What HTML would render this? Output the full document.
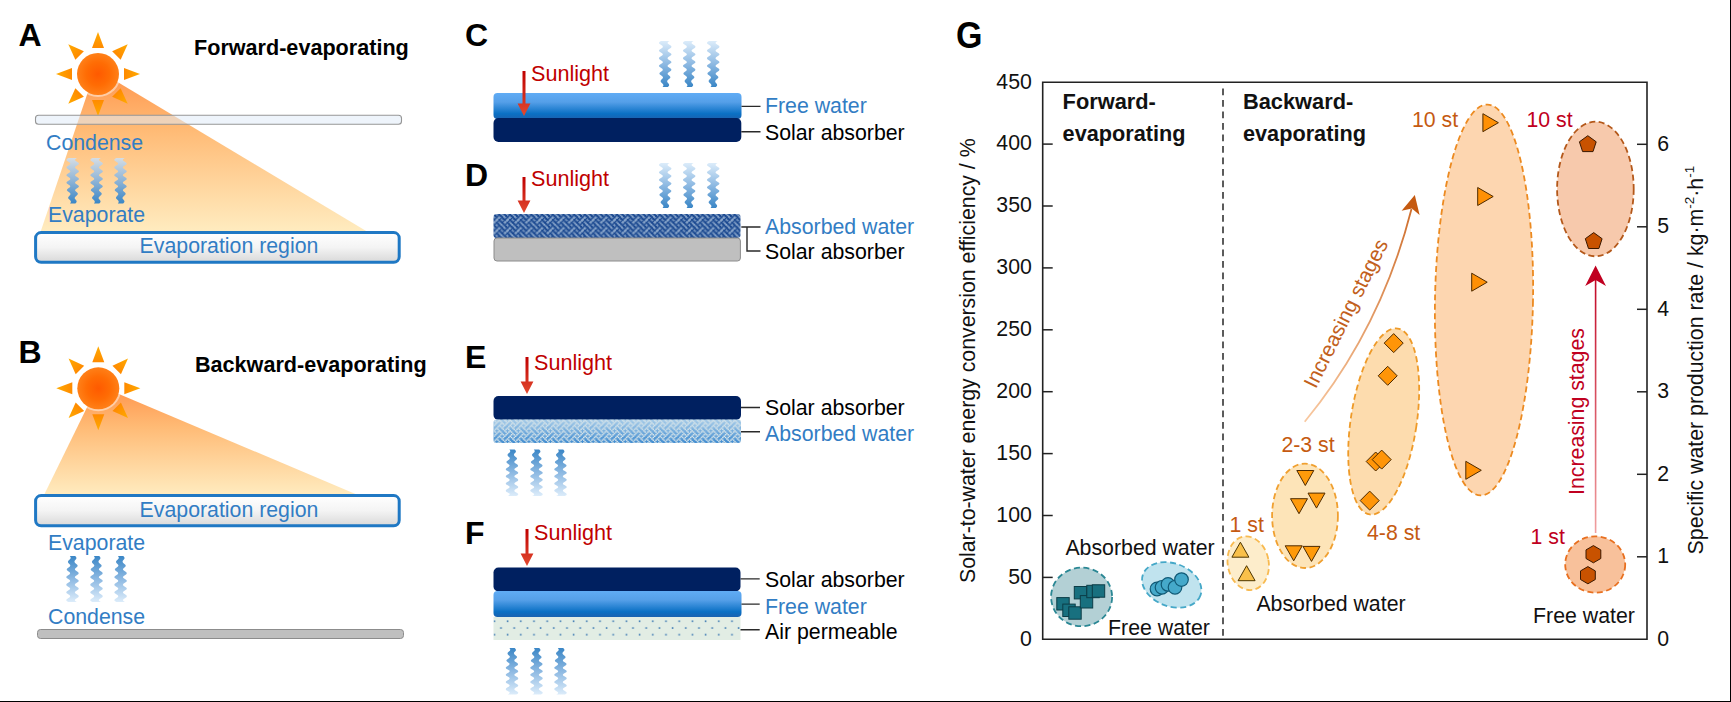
<!DOCTYPE html>
<html><head><meta charset="utf-8"><title>Figure</title>
<style>html,body{margin:0;padding:0;background:#fff;}body{width:1731px;height:702px;overflow:hidden;font-family:"Liberation Sans",sans-serif;}svg{display:block;}</style></head>
<body>
<svg width="1731" height="702" viewBox="0 0 1731 702">
<defs>
<pattern id="weaveD" width="10.7" height="10.7" patternUnits="userSpaceOnUse" x="493.5" y="214"><rect width="10.7" height="10.7" fill="#8ca8cc"/><path d="M-0.41,-0.41h2.15v2.15h-2.15zM-0.41,10.29h2.15v2.15h-2.15zM10.29,-0.41h2.15v2.15h-2.15zM10.29,10.29h2.15v2.15h-2.15zM4.94,-0.41h2.15v2.15h-2.15zM4.94,10.29h2.15v2.15h-2.15zM0.93,0.93h2.15v2.15h-2.15zM0.93,11.63h2.15v2.15h-2.15zM11.63,0.93h2.15v2.15h-2.15zM11.63,11.63h2.15v2.15h-2.15zM3.93,1.26h1.50v1.50h-1.50zM6.28,0.93h2.15v2.15h-2.15zM6.28,11.63h2.15v2.15h-2.15zM2.27,2.27h2.15v2.15h-2.15zM-3.08,2.27h2.15v2.15h-2.15zM7.62,2.27h2.15v2.15h-2.15zM1.26,3.93h1.50v1.50h-1.50zM6.61,3.93h1.50v1.50h-1.50zM-1.74,3.61h2.15v2.15h-2.15zM8.96,3.61h2.15v2.15h-2.15zM-0.41,4.94h2.15v2.15h-2.15zM10.29,4.94h2.15v2.15h-2.15zM4.94,4.94h2.15v2.15h-2.15zM3.93,6.61h1.50v1.50h-1.50zM6.28,6.28h2.15v2.15h-2.15zM-1.42,6.61h1.50v1.50h-1.50zM9.28,6.61h1.50v1.50h-1.50zM2.27,-3.08h2.15v2.15h-2.15zM2.27,7.62h2.15v2.15h-2.15zM-3.08,-3.08h2.15v2.15h-2.15zM-3.08,7.62h2.15v2.15h-2.15zM7.62,-3.08h2.15v2.15h-2.15zM7.62,7.62h2.15v2.15h-2.15zM1.26,-1.42h1.50v1.50h-1.50zM1.26,9.28h1.50v1.50h-1.50zM3.61,-1.74h2.15v2.15h-2.15zM3.61,8.96h2.15v2.15h-2.15zM-1.74,-1.74h2.15v2.15h-2.15zM-1.74,8.96h2.15v2.15h-2.15zM8.96,-1.74h2.15v2.15h-2.15zM8.96,8.96h2.15v2.15h-2.15z" fill="#19478f"/></pattern>
<linearGradient id="gE" x1="0" y1="0" x2="0" y2="1"><stop offset="0" stop-color="#a6cbe8"/><stop offset="1" stop-color="#3f8bd0"/></linearGradient>
<pattern id="weaveE" width="10.7" height="10.7" patternUnits="userSpaceOnUse" x="493.5" y="419.5"><path d="M-0.08,-0.08h1.50v1.50h-1.50zM-0.08,10.62h1.50v1.50h-1.50zM10.62,-0.08h1.50v1.50h-1.50zM10.62,10.62h1.50v1.50h-1.50zM5.27,-0.08h1.50v1.50h-1.50zM5.27,10.62h1.50v1.50h-1.50zM1.26,1.26h1.50v1.50h-1.50zM3.93,1.26h1.50v1.50h-1.50zM6.61,1.26h1.50v1.50h-1.50zM2.59,2.59h1.50v1.50h-1.50zM7.94,2.59h1.50v1.50h-1.50zM1.26,3.93h1.50v1.50h-1.50zM6.61,3.93h1.50v1.50h-1.50zM-1.42,3.93h1.50v1.50h-1.50zM9.28,3.93h1.50v1.50h-1.50zM-0.08,5.27h1.50v1.50h-1.50zM10.62,5.27h1.50v1.50h-1.50zM5.27,5.27h1.50v1.50h-1.50zM3.93,6.61h1.50v1.50h-1.50zM6.61,6.61h1.50v1.50h-1.50zM-1.42,6.61h1.50v1.50h-1.50zM9.28,6.61h1.50v1.50h-1.50zM2.59,7.94h1.50v1.50h-1.50zM7.94,7.94h1.50v1.50h-1.50zM1.26,-1.42h1.50v1.50h-1.50zM1.26,9.28h1.50v1.50h-1.50zM3.93,-1.42h1.50v1.50h-1.50zM3.93,9.28h1.50v1.50h-1.50zM-1.42,-1.42h1.50v1.50h-1.50zM-1.42,9.28h1.50v1.50h-1.50zM9.28,-1.42h1.50v1.50h-1.50zM9.28,9.28h1.50v1.50h-1.50z" fill="#dde8ea"/></pattern>
<pattern id="dots" width="13.2" height="13.4" patternUnits="userSpaceOnUse" x="491" y="614.5"><rect width="13.2" height="13.4" fill="#e2ede4"/><rect x="2.6" y="6" width="1.6" height="1.6" fill="#3f7cb4"/><rect x="9.2" y="12.7" width="1.6" height="1.6" fill="#3f7cb4"/><rect x="9.2" y="-0.7" width="1.6" height="1.6" fill="#3f7cb4"/></pattern>
<linearGradient id="water" x1="0" y1="0" x2="0" y2="1"><stop offset="0" stop-color="#60acf5"/><stop offset="0.35" stop-color="#559fe8"/><stop offset="0.8" stop-color="#0a70c4"/><stop offset="1" stop-color="#1a62b0"/></linearGradient>
<linearGradient id="evap" x1="0" y1="0" x2="0" y2="1"><stop offset="0" stop-color="#ffffff"/><stop offset="0.5" stop-color="#f4f4f4"/><stop offset="1" stop-color="#d9d9d9"/></linearGradient>
<linearGradient id="beamA" gradientUnits="userSpaceOnUse" x1="0" y1="74" x2="0" y2="232"><stop offset="0" stop-color="#ff8a3a" stop-opacity="0.9"/><stop offset="0.35" stop-color="#ffae5c" stop-opacity="0.85"/><stop offset="1" stop-color="#ffe7b0" stop-opacity="0.8"/></linearGradient>
<linearGradient id="beamB" gradientUnits="userSpaceOnUse" x1="0" y1="389" x2="0" y2="496"><stop offset="0" stop-color="#ff8a3a" stop-opacity="0.9"/><stop offset="0.35" stop-color="#ffae5c" stop-opacity="0.85"/><stop offset="1" stop-color="#ffe7b0" stop-opacity="0.8"/></linearGradient>
<linearGradient id="arr" x1="0" y1="0" x2="0" y2="1"><stop offset="0" stop-color="#c00000"/><stop offset="1" stop-color="#f07050"/></linearGradient>
</defs>
<rect width="1731" height="702" fill="#fff"/>
<text x="18.6" y="45.9" font-size="32" fill="#000" text-anchor="start" font-weight="bold" font-family="Liberation Sans, sans-serif" >A</text>
<text x="194" y="55.4" font-size="21.6" fill="#000" text-anchor="start" font-weight="bold" font-family="Liberation Sans, sans-serif" >Forward-evaporating</text>
<polygon points="94,74 100,71.6 367,231.5 40.5,232" fill="url(#beamA)"/>
<radialGradient id="sunA" cx="0.5" cy="0.5" r="0.5"><stop offset="0" stop-color="#ff5a00"/><stop offset="0.55" stop-color="#ff6c04"/><stop offset="1" stop-color="#ff8018"/></radialGradient>
<linearGradient id="sunAr" x1="0" y1="0" x2="0" y2="1"><stop offset="0" stop-color="#ffab00"/><stop offset="1" stop-color="#ff8a00"/></linearGradient>
<polygon points="-6,-26 6,-26 0,-42" fill="url(#sunAr)" transform="translate(98,74) rotate(0)"/>
<polygon points="-6,-26 6,-26 0,-42" fill="url(#sunAr)" transform="translate(98,74) rotate(45)"/>
<polygon points="-6,-26 6,-26 0,-42" fill="url(#sunAr)" transform="translate(98,74) rotate(90)"/>
<polygon points="-6,-26 6,-26 0,-42" fill="url(#sunAr)" transform="translate(98,74) rotate(135)"/>
<polygon points="-6,-26 6,-26 0,-42" fill="url(#sunAr)" transform="translate(98,74) rotate(180)"/>
<polygon points="-6,-26 6,-26 0,-42" fill="url(#sunAr)" transform="translate(98,74) rotate(225)"/>
<polygon points="-6,-26 6,-26 0,-42" fill="url(#sunAr)" transform="translate(98,74) rotate(270)"/>
<polygon points="-6,-26 6,-26 0,-42" fill="url(#sunAr)" transform="translate(98,74) rotate(315)"/>
<circle cx="98" cy="74" r="23" fill="#fff" fill-opacity="0.45"/>
<circle cx="98" cy="74" r="21" fill="url(#sunA)"/>
<rect x="35.5" y="115.2" width="366" height="9.1" rx="3" fill="#e0ebf8" fill-opacity="0.55" stroke="#969696" stroke-width="1.1"/>
<text x="46" y="150" font-size="21.3" fill="#327dc4" text-anchor="start" font-weight="normal" font-family="Liberation Sans, sans-serif" >Condense</text>
<linearGradient id="vA" gradientUnits="userSpaceOnUse" x1="0" y1="203.5" x2="0" y2="158"><stop offset="0" stop-color="#3a86c6"/><stop offset="0.5" stop-color="#8fb4d6"/><stop offset="1" stop-color="#d5dde4"/></linearGradient>
<path d="M70.03,203.50 Q72.04,201.60 69.63,199.71 Q66.80,197.81 69.22,195.92 Q72.05,194.02 68.81,192.12 Q65.15,190.23 68.40,188.33 Q72.28,186.44 68.40,184.54 Q64.40,182.65 68.40,180.75 Q72.40,178.85 68.40,176.96 Q64.40,175.06 68.40,173.17 Q72.40,171.27 68.40,169.38 Q64.40,167.48 68.40,165.58 Q72.40,163.69 68.40,161.79 Q64.40,159.90 68.40,158.00 L77.00,158.00 Q73.00,159.90 77.00,161.79 Q81.00,163.69 77.00,165.58 Q73.00,167.48 77.00,169.38 Q81.00,171.27 77.00,173.17 Q73.00,175.06 77.00,176.96 Q81.00,178.85 77.00,180.75 Q73.00,182.65 77.00,184.54 Q80.88,186.44 77.00,188.33 Q73.34,190.23 76.59,192.12 Q79.43,194.02 76.18,195.92 Q73.35,197.81 75.77,199.71 Q77.78,201.60 75.37,203.50 Z" fill="url(#vA)"/>
<path d="M93.93,203.50 Q95.94,201.60 93.53,199.71 Q90.70,197.81 93.12,195.92 Q95.95,194.02 92.71,192.12 Q89.05,190.23 92.30,188.33 Q96.17,186.44 92.30,184.54 Q88.30,182.65 92.30,180.75 Q96.30,178.85 92.30,176.96 Q88.30,175.06 92.30,173.17 Q96.30,171.27 92.30,169.38 Q88.30,167.48 92.30,165.58 Q96.30,163.69 92.30,161.79 Q88.30,159.90 92.30,158.00 L100.90,158.00 Q96.90,159.90 100.90,161.79 Q104.90,163.69 100.90,165.58 Q96.90,167.48 100.90,169.38 Q104.90,171.27 100.90,173.17 Q96.90,175.06 100.90,176.96 Q104.90,178.85 100.90,180.75 Q96.90,182.65 100.90,184.54 Q104.77,186.44 100.90,188.33 Q97.24,190.23 100.49,192.12 Q103.33,194.02 100.08,195.92 Q97.25,197.81 99.67,199.71 Q101.68,201.60 99.27,203.50 Z" fill="url(#vA)"/>
<path d="M117.83,203.50 Q119.84,201.60 117.43,199.71 Q114.60,197.81 117.02,195.92 Q119.85,194.02 116.61,192.12 Q112.95,190.23 116.20,188.33 Q120.08,186.44 116.20,184.54 Q112.20,182.65 116.20,180.75 Q120.20,178.85 116.20,176.96 Q112.20,175.06 116.20,173.17 Q120.20,171.27 116.20,169.38 Q112.20,167.48 116.20,165.58 Q120.20,163.69 116.20,161.79 Q112.20,159.90 116.20,158.00 L124.80,158.00 Q120.80,159.90 124.80,161.79 Q128.80,163.69 124.80,165.58 Q120.80,167.48 124.80,169.38 Q128.80,171.27 124.80,173.17 Q120.80,175.06 124.80,176.96 Q128.80,178.85 124.80,180.75 Q120.80,182.65 124.80,184.54 Q128.68,186.44 124.80,188.33 Q121.14,190.23 124.39,192.12 Q127.23,194.02 123.98,195.92 Q121.15,197.81 123.57,199.71 Q125.58,201.60 123.17,203.50 Z" fill="url(#vA)"/>
<text x="48" y="222" font-size="21.3" fill="#327dc4" text-anchor="start" font-weight="normal" font-family="Liberation Sans, sans-serif" >Evaporate</text>
<rect x="35.6" y="232.6" width="363.6" height="29.6" rx="5.5" fill="url(#evap)" stroke="#1f78c4" stroke-width="3"/>
<text x="229" y="253" font-size="21.3" fill="#327dc4" text-anchor="middle" font-weight="normal" font-family="Liberation Sans, sans-serif" >Evaporation region</text>
<text x="18.6" y="363.4" font-size="32" fill="#000" text-anchor="start" font-weight="bold" font-family="Liberation Sans, sans-serif" >B</text>
<text x="195" y="371.5" font-size="21.6" fill="#000" text-anchor="start" font-weight="bold" font-family="Liberation Sans, sans-serif" >Backward-evaporating</text>
<polygon points="96.5,388 100,386 359,495.5 43.5,496" fill="url(#beamB)"/>
<radialGradient id="sunB" cx="0.5" cy="0.5" r="0.5"><stop offset="0" stop-color="#ff5a00"/><stop offset="0.55" stop-color="#ff6c04"/><stop offset="1" stop-color="#ff8018"/></radialGradient>
<linearGradient id="sunBr" x1="0" y1="0" x2="0" y2="1"><stop offset="0" stop-color="#ffab00"/><stop offset="1" stop-color="#ff8a00"/></linearGradient>
<polygon points="-6,-26 6,-26 0,-42" fill="url(#sunBr)" transform="translate(98.3,388.3) rotate(0)"/>
<polygon points="-6,-26 6,-26 0,-42" fill="url(#sunBr)" transform="translate(98.3,388.3) rotate(45)"/>
<polygon points="-6,-26 6,-26 0,-42" fill="url(#sunBr)" transform="translate(98.3,388.3) rotate(90)"/>
<polygon points="-6,-26 6,-26 0,-42" fill="url(#sunBr)" transform="translate(98.3,388.3) rotate(135)"/>
<polygon points="-6,-26 6,-26 0,-42" fill="url(#sunBr)" transform="translate(98.3,388.3) rotate(180)"/>
<polygon points="-6,-26 6,-26 0,-42" fill="url(#sunBr)" transform="translate(98.3,388.3) rotate(225)"/>
<polygon points="-6,-26 6,-26 0,-42" fill="url(#sunBr)" transform="translate(98.3,388.3) rotate(270)"/>
<polygon points="-6,-26 6,-26 0,-42" fill="url(#sunBr)" transform="translate(98.3,388.3) rotate(315)"/>
<circle cx="98.3" cy="388.3" r="23" fill="#fff" fill-opacity="0.45"/>
<circle cx="98.3" cy="388.3" r="21" fill="url(#sunB)"/>
<rect x="35.6" y="495.6" width="363.6" height="30.2" rx="5.5" fill="url(#evap)" stroke="#1f78c4" stroke-width="3"/>
<text x="229" y="517" font-size="21.3" fill="#327dc4" text-anchor="middle" font-weight="normal" font-family="Liberation Sans, sans-serif" >Evaporation region</text>
<text x="48" y="550" font-size="21.3" fill="#327dc4" text-anchor="start" font-weight="normal" font-family="Liberation Sans, sans-serif" >Evaporate</text>
<linearGradient id="vB" gradientUnits="userSpaceOnUse" x1="0" y1="556" x2="0" y2="602"><stop offset="0" stop-color="#3a86c6"/><stop offset="0.5" stop-color="#8db9e2"/><stop offset="1" stop-color="#dcecfa"/></linearGradient>
<path d="M69.83,556.00 Q71.84,557.92 69.43,559.83 Q66.60,561.75 69.02,563.67 Q71.85,565.58 68.61,567.50 Q64.95,569.42 68.20,571.33 Q72.08,573.25 68.20,575.17 Q64.20,577.08 68.20,579.00 Q72.20,580.92 68.20,582.83 Q64.20,584.75 68.20,586.67 Q72.20,588.58 68.20,590.50 Q64.20,592.42 68.20,594.33 Q72.20,596.25 68.20,598.17 Q64.20,600.08 68.20,602.00 L76.80,602.00 Q72.80,600.08 76.80,598.17 Q80.80,596.25 76.80,594.33 Q72.80,592.42 76.80,590.50 Q80.80,588.58 76.80,586.67 Q72.80,584.75 76.80,582.83 Q80.80,580.92 76.80,579.00 Q72.80,577.08 76.80,575.17 Q80.67,573.25 76.80,571.33 Q73.14,569.42 76.39,567.50 Q79.23,565.58 75.98,563.67 Q73.15,561.75 75.57,559.83 Q77.58,557.92 75.17,556.00 Z" fill="url(#vB)"/>
<path d="M93.83,556.00 Q95.84,557.92 93.43,559.83 Q90.60,561.75 93.02,563.67 Q95.85,565.58 92.61,567.50 Q88.95,569.42 92.20,571.33 Q96.08,573.25 92.20,575.17 Q88.20,577.08 92.20,579.00 Q96.20,580.92 92.20,582.83 Q88.20,584.75 92.20,586.67 Q96.20,588.58 92.20,590.50 Q88.20,592.42 92.20,594.33 Q96.20,596.25 92.20,598.17 Q88.20,600.08 92.20,602.00 L100.80,602.00 Q96.80,600.08 100.80,598.17 Q104.80,596.25 100.80,594.33 Q96.80,592.42 100.80,590.50 Q104.80,588.58 100.80,586.67 Q96.80,584.75 100.80,582.83 Q104.80,580.92 100.80,579.00 Q96.80,577.08 100.80,575.17 Q104.67,573.25 100.80,571.33 Q97.14,569.42 100.39,567.50 Q103.23,565.58 99.98,563.67 Q97.15,561.75 99.57,559.83 Q101.58,557.92 99.17,556.00 Z" fill="url(#vB)"/>
<path d="M117.93,556.00 Q119.94,557.92 117.53,559.83 Q114.70,561.75 117.12,563.67 Q119.95,565.58 116.71,567.50 Q113.05,569.42 116.30,571.33 Q120.17,573.25 116.30,575.17 Q112.30,577.08 116.30,579.00 Q120.30,580.92 116.30,582.83 Q112.30,584.75 116.30,586.67 Q120.30,588.58 116.30,590.50 Q112.30,592.42 116.30,594.33 Q120.30,596.25 116.30,598.17 Q112.30,600.08 116.30,602.00 L124.90,602.00 Q120.90,600.08 124.90,598.17 Q128.90,596.25 124.90,594.33 Q120.90,592.42 124.90,590.50 Q128.90,588.58 124.90,586.67 Q120.90,584.75 124.90,582.83 Q128.90,580.92 124.90,579.00 Q120.90,577.08 124.90,575.17 Q128.77,573.25 124.90,571.33 Q121.24,569.42 124.49,567.50 Q127.33,565.58 124.08,563.67 Q121.25,561.75 123.67,559.83 Q125.68,557.92 123.27,556.00 Z" fill="url(#vB)"/>
<text x="48" y="624" font-size="21.3" fill="#327dc4" text-anchor="start" font-weight="normal" font-family="Liberation Sans, sans-serif" >Condense</text>
<rect x="37.5" y="629.5" width="366" height="9" rx="3" fill="#bfbfbf" stroke="#8c8c8c" stroke-width="1"/>
<text x="465" y="46" font-size="32" fill="#000" text-anchor="start" font-weight="bold" font-family="Liberation Sans, sans-serif" >C</text>
<rect x="493.5" y="93" width="248" height="26" rx="4" fill="url(#water)"/>
<rect x="493.5" y="118" width="247.8" height="24" rx="5" fill="#002060"/>
<linearGradient id="aC" gradientUnits="userSpaceOnUse" x1="0" y1="71" x2="0" y2="116"><stop offset="0" stop-color="#c00000"/><stop offset="1" stop-color="#e24a30"/></linearGradient>
<path d="M522.5,71 L525.5,71 L525.5,103.5 L530.4,103.5 L524,116 L517.6,103.5 L522.5,103.5 Z" fill="url(#aC)"/>
<text x="531" y="81" font-size="21.6" fill="#c00000" text-anchor="start" font-weight="normal" font-family="Liberation Sans, sans-serif" >Sunlight</text>
<linearGradient id="vC" gradientUnits="userSpaceOnUse" x1="0" y1="87" x2="0" y2="41"><stop offset="0" stop-color="#3a86c6"/><stop offset="0.5" stop-color="#8db9e2"/><stop offset="1" stop-color="#dcecfa"/></linearGradient>
<path d="M662.53,87.00 Q664.54,85.08 662.13,83.17 Q659.30,81.25 661.72,79.33 Q664.55,77.42 661.31,75.50 Q657.65,73.58 660.90,71.67 Q664.78,69.75 660.90,67.83 Q656.90,65.92 660.90,64.00 Q664.90,62.08 660.90,60.17 Q656.90,58.25 660.90,56.33 Q664.90,54.42 660.90,52.50 Q656.90,50.58 660.90,48.67 Q664.90,46.75 660.90,44.83 Q656.90,42.92 660.90,41.00 L669.50,41.00 Q665.50,42.92 669.50,44.83 Q673.50,46.75 669.50,48.67 Q665.50,50.58 669.50,52.50 Q673.50,54.42 669.50,56.33 Q665.50,58.25 669.50,60.17 Q673.50,62.08 669.50,64.00 Q665.50,65.92 669.50,67.83 Q673.38,69.75 669.50,71.67 Q665.84,73.58 669.09,75.50 Q671.93,77.42 668.68,79.33 Q665.85,81.25 668.27,83.17 Q670.28,85.08 667.87,87.00 Z" fill="url(#vC)"/>
<path d="M686.53,87.00 Q688.54,85.08 686.13,83.17 Q683.30,81.25 685.72,79.33 Q688.55,77.42 685.31,75.50 Q681.65,73.58 684.90,71.67 Q688.78,69.75 684.90,67.83 Q680.90,65.92 684.90,64.00 Q688.90,62.08 684.90,60.17 Q680.90,58.25 684.90,56.33 Q688.90,54.42 684.90,52.50 Q680.90,50.58 684.90,48.67 Q688.90,46.75 684.90,44.83 Q680.90,42.92 684.90,41.00 L693.50,41.00 Q689.50,42.92 693.50,44.83 Q697.50,46.75 693.50,48.67 Q689.50,50.58 693.50,52.50 Q697.50,54.42 693.50,56.33 Q689.50,58.25 693.50,60.17 Q697.50,62.08 693.50,64.00 Q689.50,65.92 693.50,67.83 Q697.38,69.75 693.50,71.67 Q689.84,73.58 693.09,75.50 Q695.93,77.42 692.68,79.33 Q689.85,81.25 692.27,83.17 Q694.28,85.08 691.87,87.00 Z" fill="url(#vC)"/>
<path d="M710.53,87.00 Q712.54,85.08 710.13,83.17 Q707.30,81.25 709.72,79.33 Q712.55,77.42 709.31,75.50 Q705.65,73.58 708.90,71.67 Q712.78,69.75 708.90,67.83 Q704.90,65.92 708.90,64.00 Q712.90,62.08 708.90,60.17 Q704.90,58.25 708.90,56.33 Q712.90,54.42 708.90,52.50 Q704.90,50.58 708.90,48.67 Q712.90,46.75 708.90,44.83 Q704.90,42.92 708.90,41.00 L717.50,41.00 Q713.50,42.92 717.50,44.83 Q721.50,46.75 717.50,48.67 Q713.50,50.58 717.50,52.50 Q721.50,54.42 717.50,56.33 Q713.50,58.25 717.50,60.17 Q721.50,62.08 717.50,64.00 Q713.50,65.92 717.50,67.83 Q721.38,69.75 717.50,71.67 Q713.84,73.58 717.09,75.50 Q719.93,77.42 716.68,79.33 Q713.85,81.25 716.27,83.17 Q718.28,85.08 715.87,87.00 Z" fill="url(#vC)"/>
<path d="M741.5,106.4 H760.5 M741.3,131.8 H760.5" stroke="#2a2a2a" stroke-width="1.4" fill="none"/>
<text x="765" y="113" font-size="21.3" fill="#327dc4" text-anchor="start" font-weight="normal" font-family="Liberation Sans, sans-serif" >Free water</text>
<text x="765" y="140" font-size="21.3" fill="#000" text-anchor="start" font-weight="normal" font-family="Liberation Sans, sans-serif" >Solar absorber</text>
<text x="465" y="185.7" font-size="32" fill="#000" text-anchor="start" font-weight="bold" font-family="Liberation Sans, sans-serif" >D</text>
<rect x="493.5" y="214" width="247" height="24" rx="3" fill="url(#weaveD)"/>
<rect x="494" y="238" width="246.4" height="23" rx="3" fill="#bfbfbf" stroke="#8c8c8c" stroke-width="1"/>
<linearGradient id="aD" gradientUnits="userSpaceOnUse" x1="0" y1="177" x2="0" y2="213"><stop offset="0" stop-color="#c00000"/><stop offset="1" stop-color="#e24a30"/></linearGradient>
<path d="M522.5,177 L525.5,177 L525.5,200.5 L530.4,200.5 L524,213 L517.6,200.5 L522.5,200.5 Z" fill="url(#aD)"/>
<text x="531" y="186" font-size="21.6" fill="#c00000" text-anchor="start" font-weight="normal" font-family="Liberation Sans, sans-serif" >Sunlight</text>
<linearGradient id="vD" gradientUnits="userSpaceOnUse" x1="0" y1="208" x2="0" y2="163"><stop offset="0" stop-color="#3a86c6"/><stop offset="0.5" stop-color="#8db9e2"/><stop offset="1" stop-color="#dcecfa"/></linearGradient>
<path d="M662.53,208.00 Q664.54,206.12 662.13,204.25 Q659.30,202.38 661.72,200.50 Q664.55,198.62 661.31,196.75 Q657.65,194.88 660.90,193.00 Q664.78,191.12 660.90,189.25 Q656.90,187.38 660.90,185.50 Q664.90,183.62 660.90,181.75 Q656.90,179.88 660.90,178.00 Q664.90,176.12 660.90,174.25 Q656.90,172.38 660.90,170.50 Q664.90,168.62 660.90,166.75 Q656.90,164.88 660.90,163.00 L669.50,163.00 Q665.50,164.88 669.50,166.75 Q673.50,168.62 669.50,170.50 Q665.50,172.38 669.50,174.25 Q673.50,176.12 669.50,178.00 Q665.50,179.88 669.50,181.75 Q673.50,183.62 669.50,185.50 Q665.50,187.38 669.50,189.25 Q673.38,191.12 669.50,193.00 Q665.84,194.88 669.09,196.75 Q671.93,198.62 668.68,200.50 Q665.85,202.38 668.27,204.25 Q670.28,206.12 667.87,208.00 Z" fill="url(#vD)"/>
<path d="M686.53,208.00 Q688.54,206.12 686.13,204.25 Q683.30,202.38 685.72,200.50 Q688.55,198.62 685.31,196.75 Q681.65,194.88 684.90,193.00 Q688.78,191.12 684.90,189.25 Q680.90,187.38 684.90,185.50 Q688.90,183.62 684.90,181.75 Q680.90,179.88 684.90,178.00 Q688.90,176.12 684.90,174.25 Q680.90,172.38 684.90,170.50 Q688.90,168.62 684.90,166.75 Q680.90,164.88 684.90,163.00 L693.50,163.00 Q689.50,164.88 693.50,166.75 Q697.50,168.62 693.50,170.50 Q689.50,172.38 693.50,174.25 Q697.50,176.12 693.50,178.00 Q689.50,179.88 693.50,181.75 Q697.50,183.62 693.50,185.50 Q689.50,187.38 693.50,189.25 Q697.38,191.12 693.50,193.00 Q689.84,194.88 693.09,196.75 Q695.93,198.62 692.68,200.50 Q689.85,202.38 692.27,204.25 Q694.28,206.12 691.87,208.00 Z" fill="url(#vD)"/>
<path d="M710.53,208.00 Q712.54,206.12 710.13,204.25 Q707.30,202.38 709.72,200.50 Q712.55,198.62 709.31,196.75 Q705.65,194.88 708.90,193.00 Q712.78,191.12 708.90,189.25 Q704.90,187.38 708.90,185.50 Q712.90,183.62 708.90,181.75 Q704.90,179.88 708.90,178.00 Q712.90,176.12 708.90,174.25 Q704.90,172.38 708.90,170.50 Q712.90,168.62 708.90,166.75 Q704.90,164.88 708.90,163.00 L717.50,163.00 Q713.50,164.88 717.50,166.75 Q721.50,168.62 717.50,170.50 Q713.50,172.38 717.50,174.25 Q721.50,176.12 717.50,178.00 Q713.50,179.88 717.50,181.75 Q721.50,183.62 717.50,185.50 Q713.50,187.38 717.50,189.25 Q721.38,191.12 717.50,193.00 Q713.84,194.88 717.09,196.75 Q719.93,198.62 716.68,200.50 Q713.85,202.38 716.27,204.25 Q718.28,206.12 715.87,208.00 Z" fill="url(#vD)"/>
<path d="M741.3,227 H760.5 M747,227 V251 H760.5" stroke="#2a2a2a" stroke-width="1.4" fill="none"/>
<text x="765" y="234" font-size="21.3" fill="#327dc4" text-anchor="start" font-weight="normal" font-family="Liberation Sans, sans-serif" >Absorbed water</text>
<text x="765" y="259" font-size="21.3" fill="#000" text-anchor="start" font-weight="normal" font-family="Liberation Sans, sans-serif" >Solar absorber</text>
<text x="465" y="367.6" font-size="32" fill="#000" text-anchor="start" font-weight="bold" font-family="Liberation Sans, sans-serif" >E</text>
<rect x="493.5" y="396" width="247.5" height="24" rx="5" fill="#002060"/>
<rect x="493.5" y="419.5" width="247.5" height="23.5" rx="3" fill="url(#gE)"/>
<rect x="493.5" y="419.5" width="247.5" height="23.5" rx="3" fill="url(#weaveE)"/>
<linearGradient id="aE" gradientUnits="userSpaceOnUse" x1="0" y1="357" x2="0" y2="394"><stop offset="0" stop-color="#c00000"/><stop offset="1" stop-color="#e24a30"/></linearGradient>
<path d="M525.5,357 L528.5,357 L528.5,381.5 L533.4,381.5 L527,394 L520.6,381.5 L525.5,381.5 Z" fill="url(#aE)"/>
<text x="534" y="370" font-size="21.6" fill="#c00000" text-anchor="start" font-weight="normal" font-family="Liberation Sans, sans-serif" >Sunlight</text>
<linearGradient id="vE" gradientUnits="userSpaceOnUse" x1="0" y1="449.5" x2="0" y2="496"><stop offset="0" stop-color="#3a86c6"/><stop offset="0.5" stop-color="#8db9e2"/><stop offset="1" stop-color="#dcecfa"/></linearGradient>
<path d="M509.33,449.50 Q511.34,451.29 508.96,453.08 Q506.19,454.87 508.58,456.65 Q511.35,458.44 508.20,460.23 Q504.67,462.02 507.83,463.81 Q511.49,465.60 507.70,467.38 Q503.70,469.17 507.70,470.96 Q511.70,472.75 507.70,474.54 Q503.70,476.33 507.70,478.12 Q511.70,479.90 507.70,481.69 Q503.70,483.48 507.70,485.27 Q511.70,487.06 507.70,488.85 Q503.70,490.63 507.70,492.42 Q511.70,494.21 507.70,496.00 L516.30,496.00 Q520.30,494.21 516.30,492.42 Q512.30,490.63 516.30,488.85 Q520.30,487.06 516.30,485.27 Q512.30,483.48 516.30,481.69 Q520.30,479.90 516.30,478.12 Q512.30,476.33 516.30,474.54 Q520.30,472.75 516.30,470.96 Q512.30,469.17 516.30,467.38 Q519.97,465.60 516.17,463.81 Q512.64,462.02 515.80,460.23 Q518.57,458.44 515.42,456.65 Q512.65,454.87 515.04,453.08 Q517.05,451.29 514.67,449.50 Z" fill="url(#vE)"/>
<path d="M533.83,449.50 Q535.84,451.29 533.46,453.08 Q530.69,454.87 533.08,456.65 Q535.85,458.44 532.70,460.23 Q529.17,462.02 532.33,463.81 Q535.99,465.60 532.20,467.38 Q528.20,469.17 532.20,470.96 Q536.20,472.75 532.20,474.54 Q528.20,476.33 532.20,478.12 Q536.20,479.90 532.20,481.69 Q528.20,483.48 532.20,485.27 Q536.20,487.06 532.20,488.85 Q528.20,490.63 532.20,492.42 Q536.20,494.21 532.20,496.00 L540.80,496.00 Q544.80,494.21 540.80,492.42 Q536.80,490.63 540.80,488.85 Q544.80,487.06 540.80,485.27 Q536.80,483.48 540.80,481.69 Q544.80,479.90 540.80,478.12 Q536.80,476.33 540.80,474.54 Q544.80,472.75 540.80,470.96 Q536.80,469.17 540.80,467.38 Q544.47,465.60 540.67,463.81 Q537.14,462.02 540.30,460.23 Q543.07,458.44 539.92,456.65 Q537.15,454.87 539.54,453.08 Q541.55,451.29 539.17,449.50 Z" fill="url(#vE)"/>
<path d="M557.83,449.50 Q559.84,451.29 557.46,453.08 Q554.69,454.87 557.08,456.65 Q559.85,458.44 556.70,460.23 Q553.17,462.02 556.33,463.81 Q559.99,465.60 556.20,467.38 Q552.20,469.17 556.20,470.96 Q560.20,472.75 556.20,474.54 Q552.20,476.33 556.20,478.12 Q560.20,479.90 556.20,481.69 Q552.20,483.48 556.20,485.27 Q560.20,487.06 556.20,488.85 Q552.20,490.63 556.20,492.42 Q560.20,494.21 556.20,496.00 L564.80,496.00 Q568.80,494.21 564.80,492.42 Q560.80,490.63 564.80,488.85 Q568.80,487.06 564.80,485.27 Q560.80,483.48 564.80,481.69 Q568.80,479.90 564.80,478.12 Q560.80,476.33 564.80,474.54 Q568.80,472.75 564.80,470.96 Q560.80,469.17 564.80,467.38 Q568.47,465.60 564.67,463.81 Q561.14,462.02 564.30,460.23 Q567.07,458.44 563.92,456.65 Q561.15,454.87 563.54,453.08 Q565.55,451.29 563.17,449.50 Z" fill="url(#vE)"/>
<path d="M741,407.5 H760 M741,431.7 H760" stroke="#2a2a2a" stroke-width="1.4" fill="none"/>
<text x="765" y="415" font-size="21.3" fill="#000" text-anchor="start" font-weight="normal" font-family="Liberation Sans, sans-serif" >Solar absorber</text>
<text x="765" y="441" font-size="21.3" fill="#327dc4" text-anchor="start" font-weight="normal" font-family="Liberation Sans, sans-serif" >Absorbed water</text>
<text x="465" y="544" font-size="32" fill="#000" text-anchor="start" font-weight="bold" font-family="Liberation Sans, sans-serif" >F</text>
<rect x="493.5" y="617" width="247" height="23" fill="url(#dots)"/>
<rect x="493.5" y="567.5" width="247" height="24" rx="5" fill="#002060"/>
<rect x="493.5" y="591" width="248" height="26" rx="4" fill="url(#water)"/>
<linearGradient id="aF" gradientUnits="userSpaceOnUse" x1="0" y1="529" x2="0" y2="566"><stop offset="0" stop-color="#c00000"/><stop offset="1" stop-color="#e24a30"/></linearGradient>
<path d="M525.5,529 L528.5,529 L528.5,553.5 L533.4,553.5 L527,566 L520.6,553.5 L525.5,553.5 Z" fill="url(#aF)"/>
<text x="534" y="540" font-size="21.6" fill="#c00000" text-anchor="start" font-weight="normal" font-family="Liberation Sans, sans-serif" >Sunlight</text>
<linearGradient id="vF" gradientUnits="userSpaceOnUse" x1="0" y1="648" x2="0" y2="694.5"><stop offset="0" stop-color="#3a86c6"/><stop offset="0.5" stop-color="#8db9e2"/><stop offset="1" stop-color="#dcecfa"/></linearGradient>
<path d="M509.33,648.00 Q511.34,649.79 508.96,651.58 Q506.19,653.37 508.58,655.15 Q511.35,656.94 508.20,658.73 Q504.67,660.52 507.83,662.31 Q511.49,664.10 507.70,665.88 Q503.70,667.67 507.70,669.46 Q511.70,671.25 507.70,673.04 Q503.70,674.83 507.70,676.62 Q511.70,678.40 507.70,680.19 Q503.70,681.98 507.70,683.77 Q511.70,685.56 507.70,687.35 Q503.70,689.13 507.70,690.92 Q511.70,692.71 507.70,694.50 L516.30,694.50 Q520.30,692.71 516.30,690.92 Q512.30,689.13 516.30,687.35 Q520.30,685.56 516.30,683.77 Q512.30,681.98 516.30,680.19 Q520.30,678.40 516.30,676.62 Q512.30,674.83 516.30,673.04 Q520.30,671.25 516.30,669.46 Q512.30,667.67 516.30,665.88 Q519.97,664.10 516.17,662.31 Q512.64,660.52 515.80,658.73 Q518.57,656.94 515.42,655.15 Q512.65,653.37 515.04,651.58 Q517.05,649.79 514.67,648.00 Z" fill="url(#vF)"/>
<path d="M533.83,648.00 Q535.84,649.79 533.46,651.58 Q530.69,653.37 533.08,655.15 Q535.85,656.94 532.70,658.73 Q529.17,660.52 532.33,662.31 Q535.99,664.10 532.20,665.88 Q528.20,667.67 532.20,669.46 Q536.20,671.25 532.20,673.04 Q528.20,674.83 532.20,676.62 Q536.20,678.40 532.20,680.19 Q528.20,681.98 532.20,683.77 Q536.20,685.56 532.20,687.35 Q528.20,689.13 532.20,690.92 Q536.20,692.71 532.20,694.50 L540.80,694.50 Q544.80,692.71 540.80,690.92 Q536.80,689.13 540.80,687.35 Q544.80,685.56 540.80,683.77 Q536.80,681.98 540.80,680.19 Q544.80,678.40 540.80,676.62 Q536.80,674.83 540.80,673.04 Q544.80,671.25 540.80,669.46 Q536.80,667.67 540.80,665.88 Q544.47,664.10 540.67,662.31 Q537.14,660.52 540.30,658.73 Q543.07,656.94 539.92,655.15 Q537.15,653.37 539.54,651.58 Q541.55,649.79 539.17,648.00 Z" fill="url(#vF)"/>
<path d="M557.83,648.00 Q559.84,649.79 557.46,651.58 Q554.69,653.37 557.08,655.15 Q559.85,656.94 556.70,658.73 Q553.17,660.52 556.33,662.31 Q559.99,664.10 556.20,665.88 Q552.20,667.67 556.20,669.46 Q560.20,671.25 556.20,673.04 Q552.20,674.83 556.20,676.62 Q560.20,678.40 556.20,680.19 Q552.20,681.98 556.20,683.77 Q560.20,685.56 556.20,687.35 Q552.20,689.13 556.20,690.92 Q560.20,692.71 556.20,694.50 L564.80,694.50 Q568.80,692.71 564.80,690.92 Q560.80,689.13 564.80,687.35 Q568.80,685.56 564.80,683.77 Q560.80,681.98 564.80,680.19 Q568.80,678.40 564.80,676.62 Q560.80,674.83 564.80,673.04 Q568.80,671.25 564.80,669.46 Q560.80,667.67 564.80,665.88 Q568.47,664.10 564.67,662.31 Q561.14,660.52 564.30,658.73 Q567.07,656.94 563.92,655.15 Q561.15,653.37 563.54,651.58 Q565.55,649.79 563.17,648.00 Z" fill="url(#vF)"/>
<path d="M740.5,578.9 H759.7 M741.5,604.1 H759.7 M740.5,629.8 H759.7" stroke="#2a2a2a" stroke-width="1.4" fill="none"/>
<text x="765" y="586.5" font-size="21.3" fill="#000" text-anchor="start" font-weight="normal" font-family="Liberation Sans, sans-serif" >Solar absorber</text>
<text x="765" y="613.5" font-size="21.3" fill="#327dc4" text-anchor="start" font-weight="normal" font-family="Liberation Sans, sans-serif" >Free water</text>
<text x="765" y="639.3" font-size="21.3" fill="#000" text-anchor="start" font-weight="normal" font-family="Liberation Sans, sans-serif" >Air permeable</text>
<text x="0" y="0" font-size="34" fill="#000" text-anchor="start" font-weight="bold" font-family="Liberation Sans, sans-serif" transform="translate(955.9,47.6) scale(1,1.06)">G</text>
<ellipse cx="1081.6" cy="596.9" rx="30.5" ry="29.3" fill="#b3d0d5" stroke="#2a8794" stroke-width="1.8" stroke-dasharray="6,3.5"/>
<rect x="1056.8" y="597.5999999999999" width="12.4" height="12.4" fill="#18707f" stroke="#0c3d47" stroke-width="1"/>
<rect x="1062.8" y="604.0999999999999" width="12.4" height="12.4" fill="#18707f" stroke="#0c3d47" stroke-width="1"/>
<rect x="1068.8" y="606.8" width="12.4" height="12.4" fill="#18707f" stroke="#0c3d47" stroke-width="1"/>
<rect x="1074.3" y="586.5" width="12.4" height="12.4" fill="#18707f" stroke="#0c3d47" stroke-width="1"/>
<rect x="1080.3" y="595.5999999999999" width="12.4" height="12.4" fill="#18707f" stroke="#0c3d47" stroke-width="1"/>
<rect x="1086.8" y="585.3" width="12.4" height="12.4" fill="#18707f" stroke="#0c3d47" stroke-width="1"/>
<rect x="1092.3" y="584.8" width="12.4" height="12.4" fill="#18707f" stroke="#0c3d47" stroke-width="1"/>
<ellipse cx="1171.7" cy="584.9" rx="30.6" ry="21.5" transform="rotate(20 1171.7 584.9)" fill="#c0e3ee" stroke="#45a8c8" stroke-width="1.8" stroke-dasharray="6,3.5"/>
<circle cx="1157" cy="589" r="6.8" fill="#45a9ca" stroke="#105a76" stroke-width="1.2"/>
<circle cx="1162" cy="587.3" r="6.8" fill="#45a9ca" stroke="#105a76" stroke-width="1.2"/>
<circle cx="1168" cy="584.4" r="6.8" fill="#45a9ca" stroke="#105a76" stroke-width="1.2"/>
<circle cx="1175" cy="587.3" r="6.8" fill="#45a9ca" stroke="#105a76" stroke-width="1.2"/>
<circle cx="1181.5" cy="579.6" r="6.8" fill="#45a9ca" stroke="#105a76" stroke-width="1.2"/>
<ellipse cx="1248.2" cy="563.2" rx="20.5" ry="27" transform="rotate(-10 1248.2 563.2)" fill="#fdedcb" stroke="#f8ba50" stroke-width="1.8" stroke-dasharray="6,3.5"/>
<polygon points="1240.4,542.2 1248.9,557.2 1231.9,557.2" fill="#f9c04a" stroke="#4d3500" stroke-width="1"/>
<polygon points="1246.6,565.7 1255.1,580.7 1238.1,580.7" fill="#f9c04a" stroke="#4d3500" stroke-width="1"/>
<ellipse cx="1305" cy="515.8" rx="32.9" ry="52.2" fill="#fde4b8" stroke="#f0a030" stroke-width="1.8" stroke-dasharray="6,3.5"/>
<polygon points="1296.8,470.5 1313.8,470.5 1305.3,485.5" fill="#ff9a0a" stroke="#4d2a00" stroke-width="1"/>
<polygon points="1290.5,498.7 1307.5,498.7 1299,513.7" fill="#ff9a0a" stroke="#4d2a00" stroke-width="1"/>
<polygon points="1308.0,493.1 1325.0,493.1 1316.5,508.1" fill="#ff9a0a" stroke="#4d2a00" stroke-width="1"/>
<polygon points="1285.2,545.8 1302.2,545.8 1293.7,560.8" fill="#ff9a0a" stroke="#4d2a00" stroke-width="1"/>
<polygon points="1303.0,546.4 1320.0,546.4 1311.5,561.4" fill="#ff9a0a" stroke="#4d2a00" stroke-width="1"/>
<ellipse cx="1383.7" cy="421.5" rx="33" ry="94" transform="rotate(8.5 1383.7 421.5)" fill="#fddcae" stroke="#ee9a28" stroke-width="1.8" stroke-dasharray="6,3.5"/>
<polygon points="1393.7,333.6 1403.2,343.1 1393.7,352.6 1384.2,343.1" fill="#ff9508" stroke="#4d2a00" stroke-width="1"/>
<polygon points="1387.7,366.3 1397.2,375.8 1387.7,385.3 1378.2,375.8" fill="#ff9508" stroke="#4d2a00" stroke-width="1"/>
<polygon points="1375.7,452.0 1385.2,461.5 1375.7,471.0 1366.2,461.5" fill="#ff9508" stroke="#4d2a00" stroke-width="1"/>
<polygon points="1381.7,450.1 1391.2,459.6 1381.7,469.1 1372.2,459.6" fill="#ff9508" stroke="#4d2a00" stroke-width="1"/>
<polygon points="1369.7,491.1 1379.2,500.6 1369.7,510.1 1360.2,500.6" fill="#ff9508" stroke="#4d2a00" stroke-width="1"/>
<ellipse cx="1484" cy="300" rx="49" ry="195.5" transform="rotate(1 1484 300)" fill="#fdd6b0" stroke="#ec8a20" stroke-width="1.8" stroke-dasharray="6,3.5"/>
<polygon points="1482.9,113.7 1498.4,122.7 1482.9,131.7" fill="#ff9005" stroke="#4d2a00" stroke-width="1"/>
<polygon points="1477.7,187.5 1493.2,196.5 1477.7,205.5" fill="#ff9005" stroke="#4d2a00" stroke-width="1"/>
<polygon points="1471.7,273.2 1487.2,282.2 1471.7,291.2" fill="#ff9005" stroke="#4d2a00" stroke-width="1"/>
<polygon points="1465.8,461.3 1481.3,470.3 1465.8,479.3" fill="#ff9005" stroke="#4d2a00" stroke-width="1"/>
<ellipse cx="1595.4" cy="189" rx="38.3" ry="67.3" fill="#f7c9ac" stroke="#b4581a" stroke-width="1.8" stroke-dasharray="6,3.5"/>
<polygon points="1587.8,135.7 1596.2,141.8 1593.0,151.6 1582.6,151.6 1579.4,141.8" fill="#c85200" stroke="#3a1800" stroke-width="1"/>
<polygon points="1593.7,232.6 1602.1,238.7 1598.9,248.5 1588.5,248.5 1585.3,238.7" fill="#c85200" stroke="#3a1800" stroke-width="1"/>
<ellipse cx="1595.2" cy="564.5" rx="30" ry="28.2" fill="#f8c19b" stroke="#e87020" stroke-width="1.8" stroke-dasharray="6,3.5"/>
<polygon points="1593.4,545.6 1600.8,549.9 1600.8,558.5 1593.4,562.8 1586.0,558.5 1586.0,549.9" fill="#c85200" stroke="#3a1800" stroke-width="1"/>
<polygon points="1587.9,566.6 1595.3,570.9 1595.3,579.5 1587.9,583.8 1580.5,579.5 1580.5,570.9" fill="#c85200" stroke="#3a1800" stroke-width="1"/>
<linearGradient id="gRed" gradientUnits="userSpaceOnUse" x1="0" y1="533" x2="0" y2="266"><stop offset="0" stop-color="#f0a0a0"/><stop offset="1" stop-color="#c00020"/></linearGradient>
<path d="M1595.6,533 V280" stroke="url(#gRed)" stroke-width="1.6" fill="none"/>
<path d="M1595.6,265.5 L1606,286 L1595.6,280 L1585.2,286 Z" fill="#c00020"/>
<text x="0" y="0" font-size="21.3" fill="#c00020" text-anchor="middle" font-weight="normal" font-family="Liberation Sans, sans-serif" transform="translate(1583.5,411.5) rotate(-90)">Increasing stages</text>
<linearGradient id="gOr" gradientUnits="userSpaceOnUse" x1="1305" y1="421" x2="1415" y2="196"><stop offset="0" stop-color="#f8c8a0"/><stop offset="1" stop-color="#cc6a28"/></linearGradient>
<path id="orc" d="M1304.7,421.7 Q1380.5,330 1411.5,209" stroke="url(#gOr)" stroke-width="1.8" fill="none"/>
<path d="M1414.8,195 L1419.6,215 L1411.9,208.6 L1401.6,210.8 Z" fill="#c55a11"/>
<path id="ort" d="M1298.3,406.9 Q1374.3,319.9 1400.3,201.9" fill="none"/>
<text x="0" y="0" font-size="20.8" fill="#c2601c" text-anchor="start" font-weight="normal" font-family="Liberation Sans, sans-serif" transform="translate(1315.8,389.5) rotate(-63.5)">Increasing stages</text>
<text x="1140" y="555" font-size="21.3" fill="#111" text-anchor="middle" font-weight="normal" font-family="Liberation Sans, sans-serif" >Absorbed water</text>
<text x="1159" y="635" font-size="21.3" fill="#111" text-anchor="middle" font-weight="normal" font-family="Liberation Sans, sans-serif" >Free water</text>
<text x="1331" y="611" font-size="21.3" fill="#111" text-anchor="middle" font-weight="normal" font-family="Liberation Sans, sans-serif" >Absorbed water</text>
<text x="1584" y="623.1" font-size="21.3" fill="#111" text-anchor="middle" font-weight="normal" font-family="Liberation Sans, sans-serif" >Free water</text>
<text x="1229.6" y="532" font-size="21.3" fill="#c55a11" text-anchor="start" font-weight="normal" font-family="Liberation Sans, sans-serif" >1 st</text>
<text x="1281.4" y="452.2" font-size="21.3" fill="#c55a11" text-anchor="start" font-weight="normal" font-family="Liberation Sans, sans-serif" >2-3 st</text>
<text x="1367" y="539.8" font-size="21.3" fill="#c55a11" text-anchor="start" font-weight="normal" font-family="Liberation Sans, sans-serif" >4-8 st</text>
<text x="1412" y="126.7" font-size="21.3" fill="#c55a11" text-anchor="start" font-weight="normal" font-family="Liberation Sans, sans-serif" >10 st</text>
<text x="1526.5" y="126.6" font-size="21.3" fill="#c00020" text-anchor="start" font-weight="normal" font-family="Liberation Sans, sans-serif" >10 st</text>
<text x="1530.5" y="543.5" font-size="21.3" fill="#c00020" text-anchor="start" font-weight="normal" font-family="Liberation Sans, sans-serif" >1 st</text>
<text x="1062.6" y="108.5" font-size="21.8" fill="#111" text-anchor="start" font-weight="bold" font-family="Liberation Sans, sans-serif" >Forward-</text>
<text x="1062.6" y="140.5" font-size="21.7" fill="#111" text-anchor="start" font-weight="bold" font-family="Liberation Sans, sans-serif" >evaporating</text>
<text x="1243" y="108.5" font-size="21.8" fill="#111" text-anchor="start" font-weight="bold" font-family="Liberation Sans, sans-serif" >Backward-</text>
<text x="1243" y="140.5" font-size="21.7" fill="#111" text-anchor="start" font-weight="bold" font-family="Liberation Sans, sans-serif" >evaporating</text>
<path d="M1223,88.5 V639.3" stroke="#333" stroke-width="1.6" stroke-dasharray="6.8,4.7" fill="none"/>
<path d="M1042.7,82.2 H1647.0 V639.3 H1042.7 Z" fill="none" stroke="#222" stroke-width="1.6"/>
<text x="1031.9" y="645.6" font-size="21.3" fill="#111" text-anchor="end" font-weight="normal" font-family="Liberation Sans, sans-serif" >0</text>
<path d="M1042.7,577.4 h10" stroke="#222" stroke-width="1.5"/>
<text x="1031.9" y="583.7" font-size="21.3" fill="#111" text-anchor="end" font-weight="normal" font-family="Liberation Sans, sans-serif" >50</text>
<path d="M1042.7,515.5 h10" stroke="#222" stroke-width="1.5"/>
<text x="1031.9" y="521.8" font-size="21.3" fill="#111" text-anchor="end" font-weight="normal" font-family="Liberation Sans, sans-serif" >100</text>
<path d="M1042.7,453.6 h10" stroke="#222" stroke-width="1.5"/>
<text x="1031.9" y="459.9" font-size="21.3" fill="#111" text-anchor="end" font-weight="normal" font-family="Liberation Sans, sans-serif" >150</text>
<path d="M1042.7,391.7 h10" stroke="#222" stroke-width="1.5"/>
<text x="1031.9" y="398.0" font-size="21.3" fill="#111" text-anchor="end" font-weight="normal" font-family="Liberation Sans, sans-serif" >200</text>
<path d="M1042.7,329.8 h10" stroke="#222" stroke-width="1.5"/>
<text x="1031.9" y="336.1" font-size="21.3" fill="#111" text-anchor="end" font-weight="normal" font-family="Liberation Sans, sans-serif" >250</text>
<path d="M1042.7,267.9 h10" stroke="#222" stroke-width="1.5"/>
<text x="1031.9" y="274.2" font-size="21.3" fill="#111" text-anchor="end" font-weight="normal" font-family="Liberation Sans, sans-serif" >300</text>
<path d="M1042.7,206.0 h10" stroke="#222" stroke-width="1.5"/>
<text x="1031.9" y="212.3" font-size="21.3" fill="#111" text-anchor="end" font-weight="normal" font-family="Liberation Sans, sans-serif" >350</text>
<path d="M1042.7,144.1 h10" stroke="#222" stroke-width="1.5"/>
<text x="1031.9" y="150.4" font-size="21.3" fill="#111" text-anchor="end" font-weight="normal" font-family="Liberation Sans, sans-serif" >400</text>
<text x="1031.9" y="88.5" font-size="21.3" fill="#111" text-anchor="end" font-weight="normal" font-family="Liberation Sans, sans-serif" >450</text>
<text x="1657.2" y="645.9" font-size="21.3" fill="#111" text-anchor="start" font-weight="normal" font-family="Liberation Sans, sans-serif" >0</text>
<path d="M1647.0,556.8 h-10" stroke="#222" stroke-width="1.5"/>
<text x="1657.2" y="563.4" font-size="21.3" fill="#111" text-anchor="start" font-weight="normal" font-family="Liberation Sans, sans-serif" >1</text>
<path d="M1647.0,474.3 h-10" stroke="#222" stroke-width="1.5"/>
<text x="1657.2" y="480.9" font-size="21.3" fill="#111" text-anchor="start" font-weight="normal" font-family="Liberation Sans, sans-serif" >2</text>
<path d="M1647.0,391.8 h-10" stroke="#222" stroke-width="1.5"/>
<text x="1657.2" y="398.4" font-size="21.3" fill="#111" text-anchor="start" font-weight="normal" font-family="Liberation Sans, sans-serif" >3</text>
<path d="M1647.0,309.3 h-10" stroke="#222" stroke-width="1.5"/>
<text x="1657.2" y="315.9" font-size="21.3" fill="#111" text-anchor="start" font-weight="normal" font-family="Liberation Sans, sans-serif" >4</text>
<path d="M1647.0,226.8 h-10" stroke="#222" stroke-width="1.5"/>
<text x="1657.2" y="233.4" font-size="21.3" fill="#111" text-anchor="start" font-weight="normal" font-family="Liberation Sans, sans-serif" >5</text>
<path d="M1647.0,144.3 h-10" stroke="#222" stroke-width="1.5"/>
<text x="1657.2" y="150.9" font-size="21.3" fill="#111" text-anchor="start" font-weight="normal" font-family="Liberation Sans, sans-serif" >6</text>
<text x="0" y="0" font-size="21.3" fill="#111" text-anchor="middle" font-weight="normal" font-family="Liberation Sans, sans-serif" transform="translate(974.8,360.7) rotate(-90)">Solar-to-water energy conversion efficiency / %</text>
<text font-size="21.3" fill="#111" text-anchor="middle" font-family="Liberation Sans, sans-serif" transform="translate(1703.4,360.1) rotate(-90)">Specific water production rate / kg·m<tspan font-size="13.5" dy="-9">-2</tspan><tspan dy="9">·h</tspan><tspan font-size="13.5" dy="-9">-1</tspan></text>
<rect x="1730" y="0" width="1" height="702" fill="#000"/>
<rect x="0" y="701" width="1731" height="1" fill="#000"/>
</svg>
</body></html>
